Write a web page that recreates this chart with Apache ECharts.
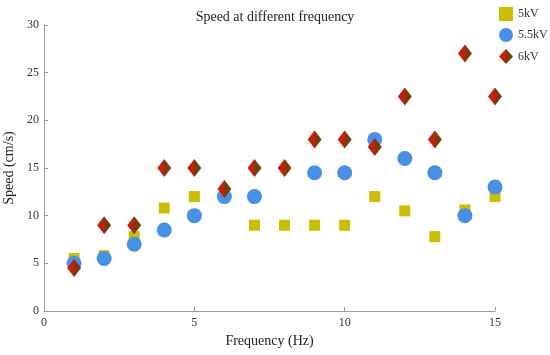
<!DOCTYPE html>
<html>
<head>
  <meta charset="utf-8">
  <title>Speed at different frequency</title>
  <script src="https://cdn.jsdelivr.net/npm/echarts@6/dist/echarts.min.js"></script>
  <style>
    body { margin: 0; padding: 0; background: #fff; }
    #main { width: 550px; height: 355px; }
  </style>
</head>
<body>
<div id="main"></div>
<script>
  // frequency (Hz)
  var freq = [1, 2, 3, 4, 5, 6, 7, 8, 9, 10, 11, 12, 13, 14, 15];
  // speed (cm/s) per voltage, null = not visible in the figure
  var speed5kV = [5.5, 5.8, 7.8, 10.8, 12, 12, 9, 9, 9, 9, 12, 10.5, 7.8, 10.6, 12];
  var speed55kV = [5, 5.5, 7, 8.5, 10, 12, 12, null, 14.5, 14.5, 18, 16, 14.5, 10, 13];
  var speed6kV = [4.5, 9, 9, 15, 15, 12.8, 15, 15, 18, 18, 17.2, 22.5, 18, 27, 22.5];
  var yTicks = [0, 5, 10, 15, 20, 25, 30];
  var xTicks = [0, 5, 10, 15];

  function pairs(ys) {
    return freq.map(function (x, i) { return ys[i] == null ? [x, '-'] : [x, ys[i]]; });
  }

  var font = 'Liberation Serif';
  var chart = echarts.init(document.getElementById('main'));

  // diamonds look red on the left, brown on the right
  var diamondColor = new echarts.graphic.LinearGradient(0, 0, 1, 0, [
    { offset: 0, color: '#c4200e' },
    { offset: 0.5, color: '#c4200e' },
    { offset: 0.5, color: '#7a3a0c' },
    { offset: 1, color: '#7a3a0c' }
  ]);

  var option = {
    backgroundColor: '#fff',
    animation: false,
    title: {
      text: 'Speed at different frequency',
      left: 270,
      top: 5,
      textAlign: 'center',
      textStyle: { fontFamily: font, fontSize: 14, fontWeight: 'normal', color: '#222' }
    },
    legend: {
      orient: 'vertical',
      left: 499,
      top: 7,
      itemGap: 7,
      itemWidth: 14,
      itemHeight: 15,
      padding: 0,
      textStyle: { fontFamily: font, fontSize: 12, color: '#333' },
      data: [
        { name: '5kV', icon: 'path://M2,2.5L12,2.5L12,12.5L2,12.5Z' },
        { name: '5.5kV', icon: 'circle' },
        { name: '6kV', icon: 'diamond' }
      ]
    },
    grid: { left: 44, right: 55, top: 25, bottom: 44, outerBoundsMode: 'none', containLabel: false },
    xAxis: {
      type: 'value',
      min: 0,
      max: 15,
      interval: 5,
      name: 'Frequency (Hz)',
      nameLocation: 'middle',
      nameGap: 22,
      nameTextStyle: { fontFamily: font, fontSize: 14, color: '#222' },
      axisLine: { lineStyle: { color: '#999' } },
      axisTick: { inside: true, length: 4, lineStyle: { color: '#999' } },
      axisLabel: {
        fontFamily: font, fontSize: 12, color: '#333', margin: 6,
        formatter: function (v) { return xTicks.indexOf(v) >= 0 ? String(v) : ''; }
      },
      splitLine: { show: false }
    },
    yAxis: {
      type: 'value',
      min: 0,
      max: 30,
      interval: 5,
      name: 'Speed (cm/s)',
      nameLocation: 'middle',
      nameGap: 23,
      nameTextStyle: { fontFamily: font, fontSize: 14, color: '#222' },
      axisLine: { show: true, lineStyle: { color: '#999' } },
      axisTick: { show: true, inside: true, length: 4, lineStyle: { color: '#999' } },
      axisLabel: {
        fontFamily: font, fontSize: 12, color: '#333', margin: 5,
        formatter: function (v) { return yTicks.indexOf(v) >= 0 ? String(v) : ''; }
      },
      splitLine: { show: false }
    },
    series: [
      {
        name: '5kV',
        type: 'scatter',
        symbol: 'rect',
        symbolSize: 11,
        itemStyle: { color: '#cbbd00', opacity: 1 },
        data: pairs(speed5kV)
      },
      {
        name: '5.5kV',
        type: 'scatter',
        symbol: 'circle',
        symbolSize: 15,
        itemStyle: { color: '#4a8fe6', opacity: 1 },
        data: pairs(speed55kV)
      },
      {
        name: '6kV',
        type: 'scatter',
        symbol: 'diamond',
        symbolSize: [14, 18],
        itemStyle: { color: diamondColor, opacity: 1 },
        data: pairs(speed6kV)
      }
    ]
  };

  chart.setOption(option);
</script>
</body>
</html>
